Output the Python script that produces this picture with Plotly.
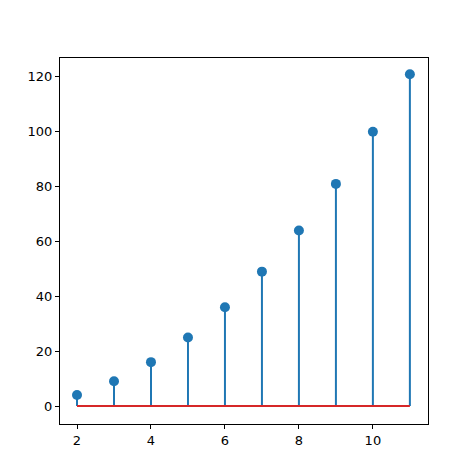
import plotly.graph_objects as go

x_vals = [2, 3, 4, 5, 6, 7, 8, 9, 10, 11]
y_vals = [4, 9, 16, 25, 36, 49, 64, 81, 100, 121]

sx, sy = [], []
for xv, yv in zip(x_vals, y_vals):
    sx += [xv, xv, None]
    sy += [0, yv, None]

fig = go.Figure()
fig.add_trace(go.Scatter(x=sx, y=sy, mode="lines", line=dict(color="#1f77b4", width=2), hoverinfo="skip"))
fig.add_trace(go.Scatter(x=[x_vals[0], x_vals[-1]], y=[0, 0], mode="lines", line=dict(color="#d62728", width=2)))
fig.add_trace(go.Scatter(x=x_vals, y=y_vals, mode="markers", marker=dict(color="#1f77b4", size=10)))

axis_common = dict(showgrid=False, zeroline=False, showline=True, linecolor="black", linewidth=1,
                   mirror=True, ticks="outside", ticklen=4, tickcolor="black",
                   tickfont=dict(family="DejaVu Sans", size=13, color="black"))
fig.update_xaxes(range=[1.54, 11.49], tickvals=[2, 4, 6, 8, 10], **axis_common)
fig.update_yaxes(range=[-6.56, 126.9], tickvals=[0, 20, 40, 60, 80, 100, 120], **axis_common)
fig.update_layout(width=474, height=474, showlegend=False, plot_bgcolor="white", paper_bgcolor="white",
                  margin=dict(l=52, r=54, t=50, b=58))
fig.write_html("out.html")
